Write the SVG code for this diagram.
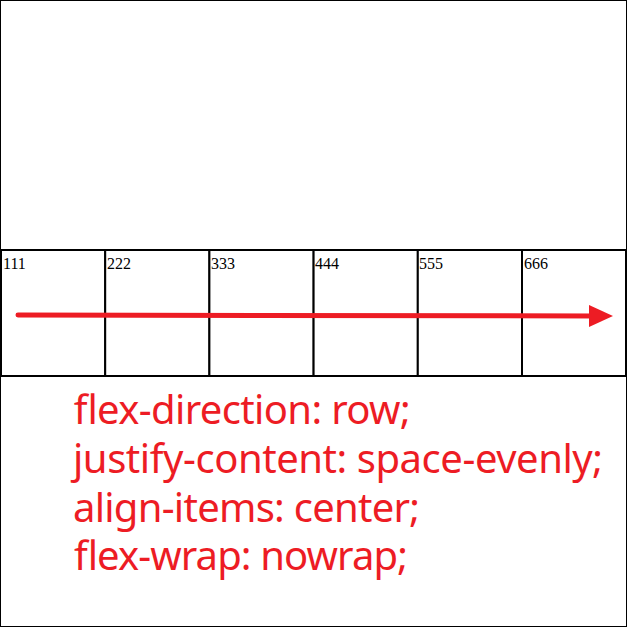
<svg xmlns="http://www.w3.org/2000/svg" width="627" height="627" viewBox="0 0 627 627">
<style>
.box{fill:#fff;stroke:#000;stroke-width:2}
.num{font-family:"Liberation Serif",serif;font-size:16px;fill:#000}
.code{font-family:"Noto Sans","Open Sans",sans-serif;font-size:40px;fill:#ED1C24}
</style>
<defs>
<marker id="ah" markerUnits="userSpaceOnUse" markerWidth="24" markerHeight="22" refX="6" refY="11" orient="auto">
<path d="M0,0 L24,11 L0,22 Z" fill="#ED1C24"/>
</marker>
</defs>
<rect x="0.5" y="0.5" width="626" height="626" fill="#fff" stroke="#000" stroke-width="1"/>
<g id="item1"><rect class="box" x="1" y="250" width="104.2" height="126"/><text class="num" x="3" y="269">111</text></g>
<g id="item2"><rect class="box" x="105.2" y="250" width="104.2" height="126"/><text class="num" x="107" y="269">222</text></g>
<g id="item3"><rect class="box" x="209.4" y="250" width="104.2" height="126"/><text class="num" x="211" y="269">333</text></g>
<g id="item4"><rect class="box" x="313.6" y="250" width="104.2" height="126"/><text class="num" x="315" y="269">444</text></g>
<g id="item5"><rect class="box" x="417.8" y="250" width="104.2" height="126"/><text class="num" x="419" y="269">555</text></g>
<g id="item6"><rect class="box" x="522" y="250" width="104" height="126"/><text class="num" x="524" y="269">666</text></g>
<g id="connectors">
<line x1="18" y1="315" x2="595" y2="316" stroke="#ED1C24" stroke-width="5" stroke-linecap="round" marker-end="url(#ah)"/>
</g>
<g id="labels">
<text class="code" x="73" y="424" textLength="337">flex-direction: row;</text>
<text class="code" x="73" y="473" textLength="530">justify-content: space-evenly;</text>
<text class="code" x="73" y="522" textLength="347">align-items: center;</text>
<text class="code" x="73" y="570" textLength="334">flex-wrap: nowrap;</text>
</g>
</svg>
